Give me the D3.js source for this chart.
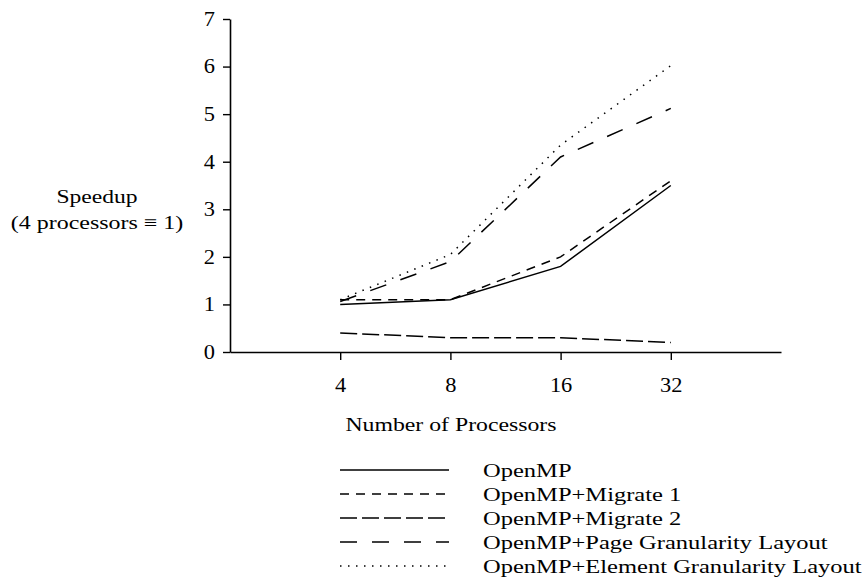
<!DOCTYPE html>
<html><head><meta charset="utf-8">
<script src="https://cdn.jsdelivr.net/npm/d3@7"></script>
<style>body{margin:0;background:#fff}svg{display:block}text{font-family:"Liberation Serif","DejaVu Serif",serif;fill:#000}</style>
</head><body><svg id="c" width="864" height="578"></svg>
<script>
const processors = [4, 8, 16, 32];
const yTicks = [0, 1, 2, 3, 4, 5, 6, 7];
const seriesNames = ["OpenMP", "OpenMP+Migrate 1", "OpenMP+Migrate 2", "OpenMP+Page Granularity Layout", "OpenMP+Element Granularity Layout"];
const openmp = [1.0, 1.1, 1.8, 3.5];
const migrate1 = [1.1, 1.1, 2.0, 3.6];
const migrate2 = [0.4, 0.3, 0.3, 0.2];
const pageLayout = [1.06, 1.9, 4.1, 5.12];
const elementLayout = [1.1, 2.05, 4.35, 6.02];
const seriesValues = [openmp, migrate1, migrate2, pageLayout, elementLayout];
const dashes = [null, "9,7", "17,5", "17,15", "1.5,6.5"];

const svg = d3.select("#c");
const x = d3.scaleLog().base(2).domain([2, 64]).range([230, 781]);
const y = d3.scaleLinear().domain([0, 7]).range([352, 19]);
const widen = f => sel => sel.each(function () {
  const w = this.getComputedTextLength();
  d3.select(this).attr("textLength", w * f).attr("lengthAdjust", "spacingAndGlyphs");
});

const xAxis = svg.append("g").attr("transform", "translate(0,352)")
  .call(d3.axisBottom(x).tickValues(processors).tickFormat(d3.format("d")).tickSize(8).tickPadding(18).tickSizeOuter(0));
const yAxis = svg.append("g").attr("transform", "translate(230,0)")
  .call(d3.axisLeft(y).tickValues(yTicks).tickFormat(d3.format("d")).tickSize(7).tickPadding(8).tickSizeOuter(0));
[xAxis, yAxis].forEach(a => {
  a.selectAll("path.domain").attr("stroke", "#000").attr("stroke-width", 1.6);
  a.selectAll(".tick line").attr("stroke", "#000").attr("stroke-width", 1.4);
  a.selectAll("text").style("font-family", '"Liberation Serif",serif').style("font-size", "20px").attr("fill", "#000").call(widen(1.12));
});

const line = d3.line().x((d, i) => x(processors[i])).y(d => y(d));
seriesValues.forEach((vals, k) => {
  svg.append("path").datum(vals).attr("d", line).attr("fill", "none")
    .attr("stroke", "#000").attr("stroke-width", 1.5)
    .attr("stroke-dasharray", dashes[k]);
});

svg.append("text").attr("x", 97).attr("y", 203).attr("text-anchor", "middle").style("font-size", "19px").text("Speedup").call(widen(1.24));
svg.append("text").attr("x", 97).attr("y", 229).attr("text-anchor", "middle").style("font-size", "19px").text("(4 processors \u2261 1)").call(widen(1.26));
svg.append("text").attr("x", 451).attr("y", 431).attr("text-anchor", "middle").style("font-size", "19px").text("Number of Processors").call(widen(1.25));

seriesNames.forEach((name, k) => {
  const yy = 470 + k * 24;
  svg.append("line").attr("x1", 340).attr("x2", 449).attr("y1", yy).attr("y2", yy)
    .attr("stroke", "#000").attr("stroke-width", 1.5).attr("stroke-dasharray", dashes[k]);
  svg.append("text").attr("x", 483).attr("y", yy + 7).style("font-size", "19px").text(name).call(widen(1.29));
});
</script></body></html>
